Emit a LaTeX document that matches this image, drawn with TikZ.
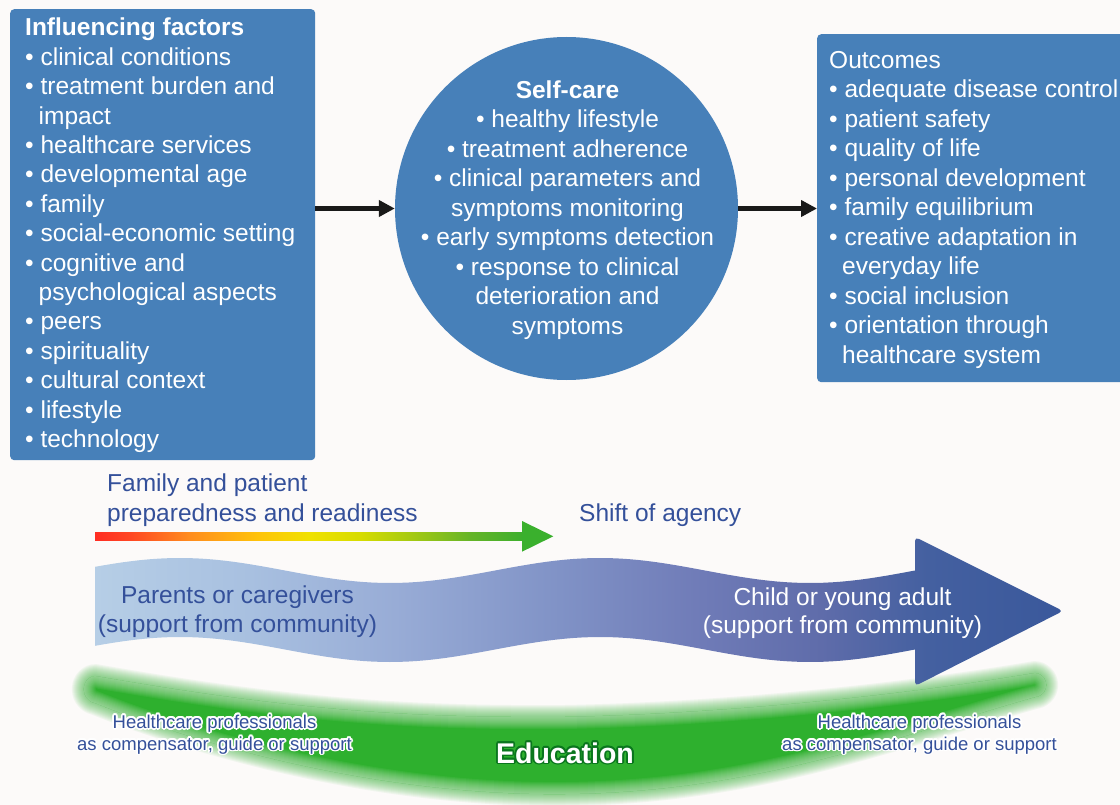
\documentclass[tikz,border=0pt]{standalone}
\usepackage{fontspec}
\setmainfont{Liberation Sans}
\usetikzlibrary{arrows.meta}

% palette
\definecolor{bg}{RGB}{252,250,249}
\definecolor{boxblue}{RGB}{71,128,185}
\definecolor{txtblue}{RGB}{52,80,154}
\definecolor{edugreen}{RGB}{46,176,46}
\definecolor{halogreen}{RGB}{10,118,30}
\definecolor{headgreen}{RGB}{58,176,45}
% readiness bar colours
\definecolor{r1}{RGB}{255,45,35}
\definecolor{r2}{RGB}{255,70,35}
\definecolor{r3}{RGB}{255,140,30}
\definecolor{r4}{RGB}{255,195,10}
\definecolor{r5}{RGB}{240,225,0}
\definecolor{r6}{RGB}{215,220,0}
\definecolor{r7}{RGB}{160,200,20}
\definecolor{r8}{RGB}{100,180,40}
\definecolor{r9}{RGB}{60,175,45}
% agency arrow colours
\definecolor{w1}{RGB}{182,206,230}
\definecolor{w2}{RGB}{168,192,224}
\definecolor{w3}{RGB}{152,172,214}
\definecolor{w4}{RGB}{128,146,198}
\definecolor{w5}{RGB}{112,124,184}
\definecolor{w6}{RGB}{95,108,170}
\definecolor{w7}{RGB}{68,96,160}
\definecolor{w8}{RGB}{58,88,155}

\pgfdeclarehorizontalshading{readiness}{100bp}{color(0bp)=(r1); color(25bp)=(r1);
  color(29bp)=(r2); color(36bp)=(r3); color(44bp)=(r4); color(50bp)=(r5);
  color(56bp)=(r6); color(62.5bp)=(r7); color(69bp)=(r8); color(75bp)=(r9); color(100bp)=(r9)}
\pgfdeclarehorizontalshading{agency}{100bp}{color(0bp)=(w1); color(25bp)=(w1);
  color(33bp)=(w2); color(40.5bp)=(w3); color(49bp)=(w4); color(56bp)=(w5);
  color(62.5bp)=(w6); color(68bp)=(w7); color(75bp)=(w8); color(100bp)=(w8)}

% text with a soft outline: name, position, outline colour, text colour, font, text
\newcommand\halonode[6]{%
  \foreach \ang [count=\k] in {0,30,...,330}
    \node[anchor=base, inner sep=0, font=#5, text=#3] (#1-h\k) at ([shift={(\ang:1.8)}]#2) {#6};
  \node[anchor=base, inner sep=0, font=#5, text=#4] (#1) at (#2) {#6};}

% outline of the education band
\newcommand\edushape{(95,676) .. controls (300,712) and (420,718) .. (565,717)
  .. controls (720,714) and (900,696) .. (1035,673)
  .. controls (1050,675) and (1050,695) .. (1035,697)
  .. controls (900,735) and (760,792) .. (565,794)
  .. controls (380,796) and (200,745) .. (95,703)
  .. controls (80,700) and (80,678) .. (95,676) -- cycle}

\begin{document}
\begin{tikzpicture}[x=1pt,y=-1pt,
  box/.style={fill=boxblue, rounded corners=4pt, inner sep=0, anchor=north west},
  bigfont/.style={font=\fontsize{24.5}{29.4}\selectfont},
  boxtext/.style={bigfont, anchor=base west, inner sep=0, text=white},
  circtext/.style={bigfont, anchor=base, inner sep=0, text=white},
  bluetext/.style={bigfont, anchor=base west, inner sep=0, text=txtblue},
  wavetext/.style={bigfont, anchor=base, inner sep=0},
  conn/.style={draw=black!90, line width=4.5pt, -{Triangle[length=16pt,width=16pt]}}]

\useasboundingbox (0,0) rectangle (1120,805);
\clip (0,0) rectangle (1120,805);
\fill[bg] (0,0) rectangle (1120,805);

% ---------- top row: factors, self-care, outcomes ----------
\node[box, minimum width=305pt, minimum height=451pt] (infbox) at (10,9) {};
\node[circle, fill=boxblue, minimum size=343pt, inner sep=0] (selfcare) at (566.5,208.5) {};
\node[box, minimum width=320pt, minimum height=348pt] (outbox) at (817,34) {};

\foreach \xx/\txt [count=\i] in {
  25/{\textbf{Influencing factors}},
  25/{• clinical conditions},
  25/{• treatment burden and},
  38.5/{impact},
  25/{• healthcare services},
  25/{• developmental age},
  25/{• family},
  25/{• social-economic setting},
  25/{• cognitive and},
  38.5/{psychological aspects},
  25/{• peers},
  25/{• spirituality},
  25/{• cultural context},
  25/{• lifestyle},
  25/{• technology}}
  \node[boxtext] (inf\i) at (\xx,{36+(\i-1)*29.4}) {\txt};

\foreach \txt [count=\i] in {
  {\textbf{Self-care}},
  {• healthy lifestyle},
  {• treatment adherence},
  {• clinical parameters and},
  {symptoms monitoring},
  {• early symptoms detection},
  {• response to clinical},
  {deterioration and},
  {symptoms}}
  \node[circtext] (sc\i) at (567.5,{98.3+(\i-1)*29.5}) {\txt};

\foreach \xx/\txt [count=\i] in {
  829/{Outcomes},
  829/{• adequate disease control},
  829/{• patient safety},
  829/{• quality of life},
  829/{• personal development},
  829/{• family equilibrium},
  829/{• creative adaptation in},
  842/{everyday life},
  829/{• social inclusion},
  829/{• orientation through},
  842/{healthcare system}}
  \node[boxtext] (out\i) at (\xx,{68.3+(\i-1)*29.5}) {\txt};

\draw[conn] (infbox.east |- selfcare.west) -- (selfcare.west);
\draw[conn] (selfcare.east) -- (outbox.west |- selfcare.east);

% ---------- readiness arrow ----------
\node[bluetext] (fam1) at (107,491.5) {Family and patient};
\node[bluetext] (fam2) at (107,521) {preparedness and readiness};
\node[bluetext] (shift) at (579,521) {Shift of agency};
\shade[shading=readiness] (95,532.7) rectangle (522.5,540);
\fill[headgreen] (522,521) -- (553.3,536.3) -- (522,551.7) -- cycle;

% ---------- education band: soft rim outside, soft fade inside ----------
\foreach \w in {2,4,...,24}
  \draw[edugreen, opacity=0.056, line width=\w pt, line join=round] \edushape;
\fill[edugreen] \edushape;
\begin{scope}
  \clip \edushape;
  \foreach \w in {2,4,...,24}
    \draw[bg, opacity=0.056, line width=\w pt, line join=round] \edushape;
\end{scope}

% ---------- agency arrow (wave period 420, i.e. 6/7 degree per unit) ----------
\shade[shading=agency]
  plot[domain=95:915, samples=90] (\x,{570.5-12.5*cos(6*(\x-180)/7)})
  [rounded corners=4pt] -- (915,537) -- (1063,611) -- (915,686) [sharp corners]
  -- plot[domain=915:95, samples=90] (\x,{649.5-12.5*cos(6*(\x-180)/7)})
  -- cycle;

\node[wavetext, text=txtblue] (par1) at (237.5,603.5) {Parents or caregivers};
\node[wavetext, text=txtblue] (par2) at (237.5,632) {(support from community)};
\node[wavetext, text=white] (chi1) at (842.5,605) {Child or young adult};
\node[wavetext, text=white] (chi2) at (842.5,633) {(support from community)};

% ---------- labels on the band ----------
\halonode{hpl1}{214.5,728.3}{white}{txtblue}{\fontsize{18.5}{22}\selectfont}{Healthcare professionals}
\halonode{hpl2}{214.5,750}{white}{txtblue}{\fontsize{18.5}{22}\selectfont}{as compensator, guide or support}
\halonode{hpr1}{919.5,728.3}{white}{txtblue}{\fontsize{18.5}{22}\selectfont}{Healthcare professionals}
\halonode{hpr2}{919.5,750}{white}{txtblue}{\fontsize{18.5}{22}\selectfont}{as compensator, guide or support}
\halonode{edu}{565,763}{halogreen}{white}{\fontsize{28.5}{32}\selectfont\bfseries}{Education}

\end{tikzpicture}
\end{document}
